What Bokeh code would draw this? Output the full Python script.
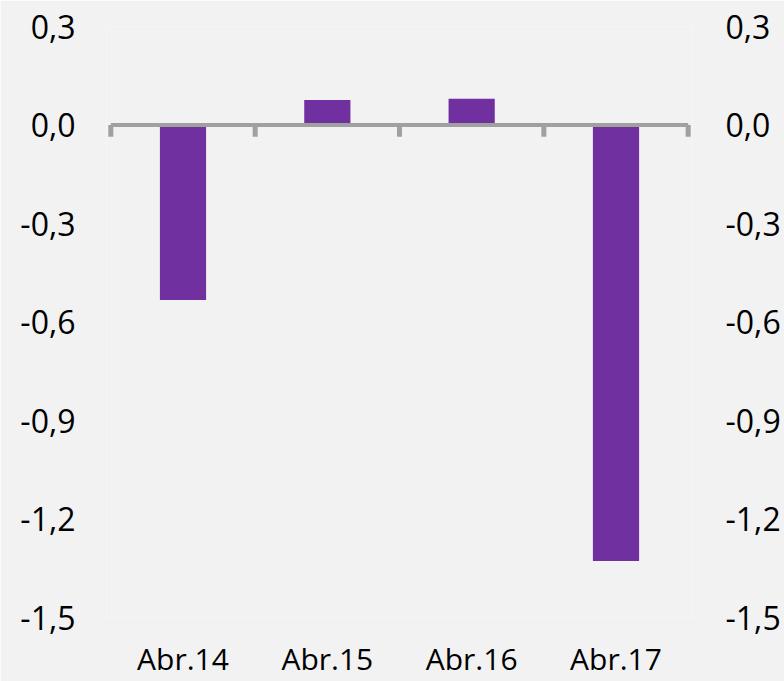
from bokeh.plotting import figure
from bokeh.models import Range1d, LinearAxis, FixedTicker, CustomJSTickFormatter
from bokeh.embed import file_html
from bokeh.resources import INLINE

categories = ["Abr.14", "Abr.15", "Abr.16", "Abr.17"]
values = [-0.533, 0.076, 0.080, -1.328]
y_ticks = [0.3, 0.0, -0.3, -0.6, -0.9, -1.2, -1.5]

n = len(categories)
xs = [i + 0.5 for i in range(n)]
bounds = [float(i) for i in range(n + 1)]

BG = "#f2f2f2"
FONT = "Open Sans"

p = figure(width=784, height=681, output_backend="svg", toolbar_location=None,
           x_range=Range1d(-0.03, n + 0.03),
           y_range=Range1d(min(y_ticks), max(y_ticks)),
           min_border_left=106, min_border_right=92, min_border_top=26, min_border_bottom=0,
           background_fill_color=BG, border_fill_color=BG, outline_line_color=None)
p.grid.visible = False

p.vbar(x=xs, bottom=0, top=values, width=0.32, fill_color="#7030a0", line_color=None)

# zero line with category boundary ticks
p.segment(x0=[bounds[0]], y0=[0], x1=[bounds[-1]], y1=[0], line_color="#a0a0a0", line_width=4)
p.segment(x0=bounds, y0=[0] * len(bounds), x1=bounds, y1=[-0.036] * len(bounds),
          line_color="#a0a0a0", line_width=5)

fmt = CustomJSTickFormatter(code="return tick.toFixed(1).replace('.', ',');")

def style_y(ax, standoff):
    ax.ticker = FixedTicker(ticks=y_ticks)
    ax.formatter = fmt
    ax.axis_line_color = None
    ax.major_tick_line_color = None
    ax.minor_tick_line_color = None
    ax.major_tick_out = 0
    ax.major_tick_in = 0
    ax.minor_tick_out = 0
    ax.major_label_standoff = standoff
    ax.major_label_text_font = FONT
    ax.major_label_text_font_size = "32px"
    ax.major_label_text_color = "#000000"

style_y(p.yaxis[0], 31)
right = LinearAxis()
style_y(right, 33)
p.add_layout(right, "right")

xa = p.xaxis[0]
xa.ticker = FixedTicker(ticks=xs)
xa.major_label_overrides = {x: c for x, c in zip(xs, categories)}
xa.axis_line_color = None
xa.major_tick_line_color = None
xa.minor_tick_line_color = None
xa.major_tick_out = 0
xa.major_tick_in = 0
xa.minor_tick_out = 0
xa.major_label_standoff = 20
xa.major_label_text_font = FONT
xa.major_label_text_font_size = "30px"
xa.major_label_text_color = "#000000"

open("out.html", "w").write(file_html(p, INLINE))
